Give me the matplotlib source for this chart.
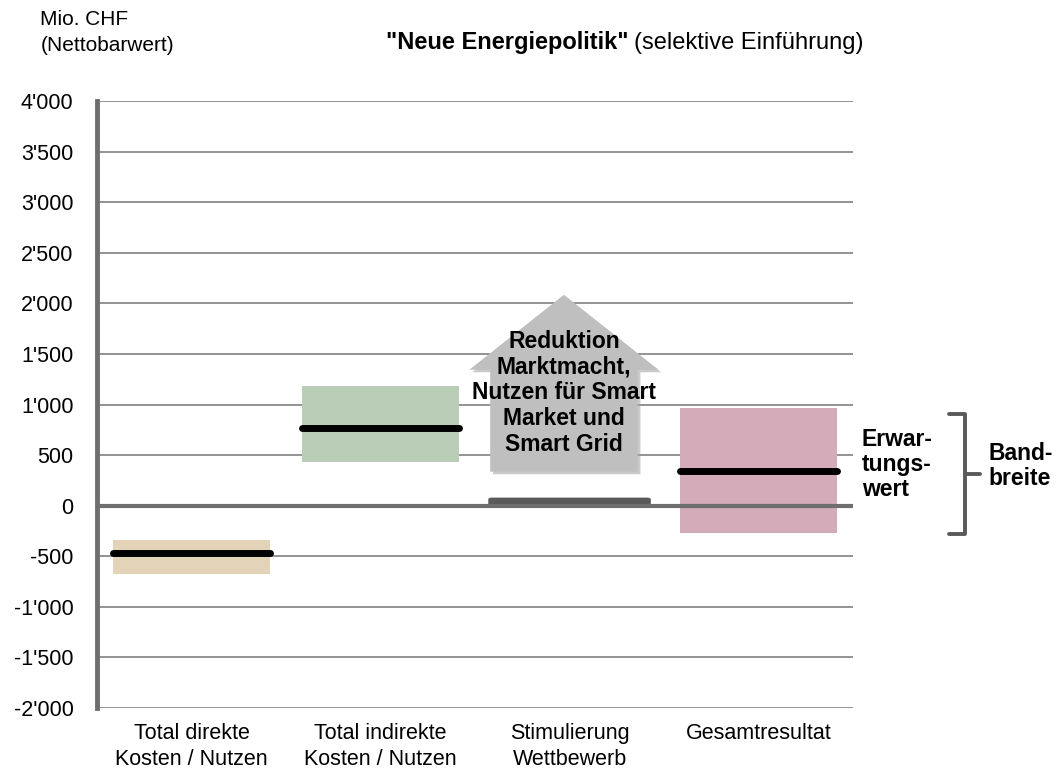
import matplotlib.pyplot as plt
from matplotlib.patches import Polygon, FancyBboxPatch
from matplotlib.ticker import FixedLocator, FuncFormatter

plt.rcParams['font.family'] = ['Liberation Sans', 'DejaVu Sans']

categories = ['Total direkte\nKosten / Nutzen', 'Total indirekte\nKosten / Nutzen',
              'Stimulierung\nWettbewerb', 'Gesamtresultat']
range_low = [-680, 435, 0, -267]
range_high = [-336, 1186, 80, 968]
expected = [-470, 770, 40, 340]
box_colors = ['#e3d3b8', '#b9cdb7', '#5a5a5a', '#d4abb8']
yticks = [-2000, -1500, -1000, -500, 0, 500, 1000, 1500, 2000, 2500, 3000, 3500, 4000]

arrow_text = 'Reduktion\nMarktmacht,\nNutzen für Smart\nMarket und\nSmart Grid'


def swiss(v, pos=None):
    s = f'{abs(int(v)):,}'.replace(',', "'")
    return '-' + s if v < 0 else s


fig = plt.figure(figsize=(10.63, 7.76), dpi=100)
ax = fig.add_axes([0.0913, 0.0876, 0.7112, 0.7822])
ax.set_xlim(-0.5, 3.5)
ax.set_ylim(-2000, 4000)

for t in yticks:
    if t == 0:
        ax.axhline(t, color='#6e6e6e', lw=3, zorder=4)
    else:
        ax.axhline(t, color='#8a8a8a', lw=1.3, zorder=1)

ax.yaxis.set_major_locator(FixedLocator(yticks))
ax.yaxis.set_major_formatter(FuncFormatter(swiss))
ax.set_xticks(range(len(categories)))
ax.set_xticklabels(categories, fontsize=15.5, linespacing=1.3)
ax.tick_params(axis='y', labelsize=15.5, length=0, pad=17)
ax.tick_params(axis='x', length=0, pad=11)
for side in ['top', 'right', 'bottom']:
    ax.spines[side].set_visible(False)
ax.spines['left'].set_color('#6e6e6e')
ax.spines['left'].set_linewidth(3.5)

w = 0.835
for i in range(len(categories)):
    if i == 2:
        bar = FancyBboxPatch((i - 0.43, range_low[i]), 0.86, range_high[i] - range_low[i],
                             boxstyle='round,pad=0,rounding_size=0.02', mutation_aspect=800,
                             fc=box_colors[i], ec='none', zorder=3)
        ax.add_patch(bar)
        continue
    ax.bar(i, range_high[i] - range_low[i], bottom=range_low[i], width=w,
           color=box_colors[i], zorder=2)
    ax.plot([i - w / 2, i + w / 2], [expected[i], expected[i]], color='black',
            lw=5, solid_capstyle='round', zorder=5)

# arrow for Stimulierung Wettbewerb
cx = 1.97
shaft_l, shaft_r = cx - 0.39, cx + 0.39
head_l, head_r = cx - 0.50, cx + 0.50
y0, y1, y2 = 336, 1344, 2085
pts = [(shaft_l, y0), (shaft_r, y0), (shaft_r, y1), (head_r, y1), (cx, y2),
       (head_l, y1), (shaft_l, y1)]
shadow = Polygon([(x + 0.015, y - 25) for x, y in pts], closed=True, fc='#a8a8a8',
                 ec='none', alpha=0.6, zorder=2)
ax.add_patch(shadow)
ax.add_patch(Polygon(pts, closed=True, fc='#bfbfbf', ec='none', zorder=3))
ax.text(cx, 1117, arrow_text, ha='center', va='center', fontsize=16.5,
        fontweight='bold', linespacing=1.15, zorder=6)

# bracket for Bandbreite
bx = 4.09
kw = dict(color='#5a5a5a', lw=2.8, clip_on=False, solid_capstyle='round', zorder=6)
ax.plot([4.01, bx, bx, 4.01], [range_high[3] - 60, range_high[3] - 60,
                               range_low[3] - 10, range_low[3] - 10], **kw)
ax.plot([bx, 4.17], [expected[3] - 25, expected[3] - 25], **kw)
ax.text(3.545, 405, 'Erwar-\ntungs-\nwert', ha='left', va='center', fontsize=16.5,
        fontweight='bold', linespacing=1.1, clip_on=False)
ax.text(4.215, 395, 'Band-\nbreite', ha='left', va='center', fontsize=16.5,
        fontweight='bold', linespacing=1.1, clip_on=False)

fig.text(0.038, 0.987, 'Mio. CHF\n(Nettobarwert)', ha='left', va='top', fontsize=15,
         linespacing=1.45)
t1 = fig.text(0.363, 0.945, '"Neue Energiepolitik"', ha='left', va='center',
              fontsize=17, fontweight='bold')
fig.canvas.draw()
bb = t1.get_window_extent()
fig.text(bb.x1 / fig.bbox.width + 0.005, 0.945, '(selektive Einführung)', ha='left',
         va='center', fontsize=17)

fig.savefig('out.png', dpi=100)
